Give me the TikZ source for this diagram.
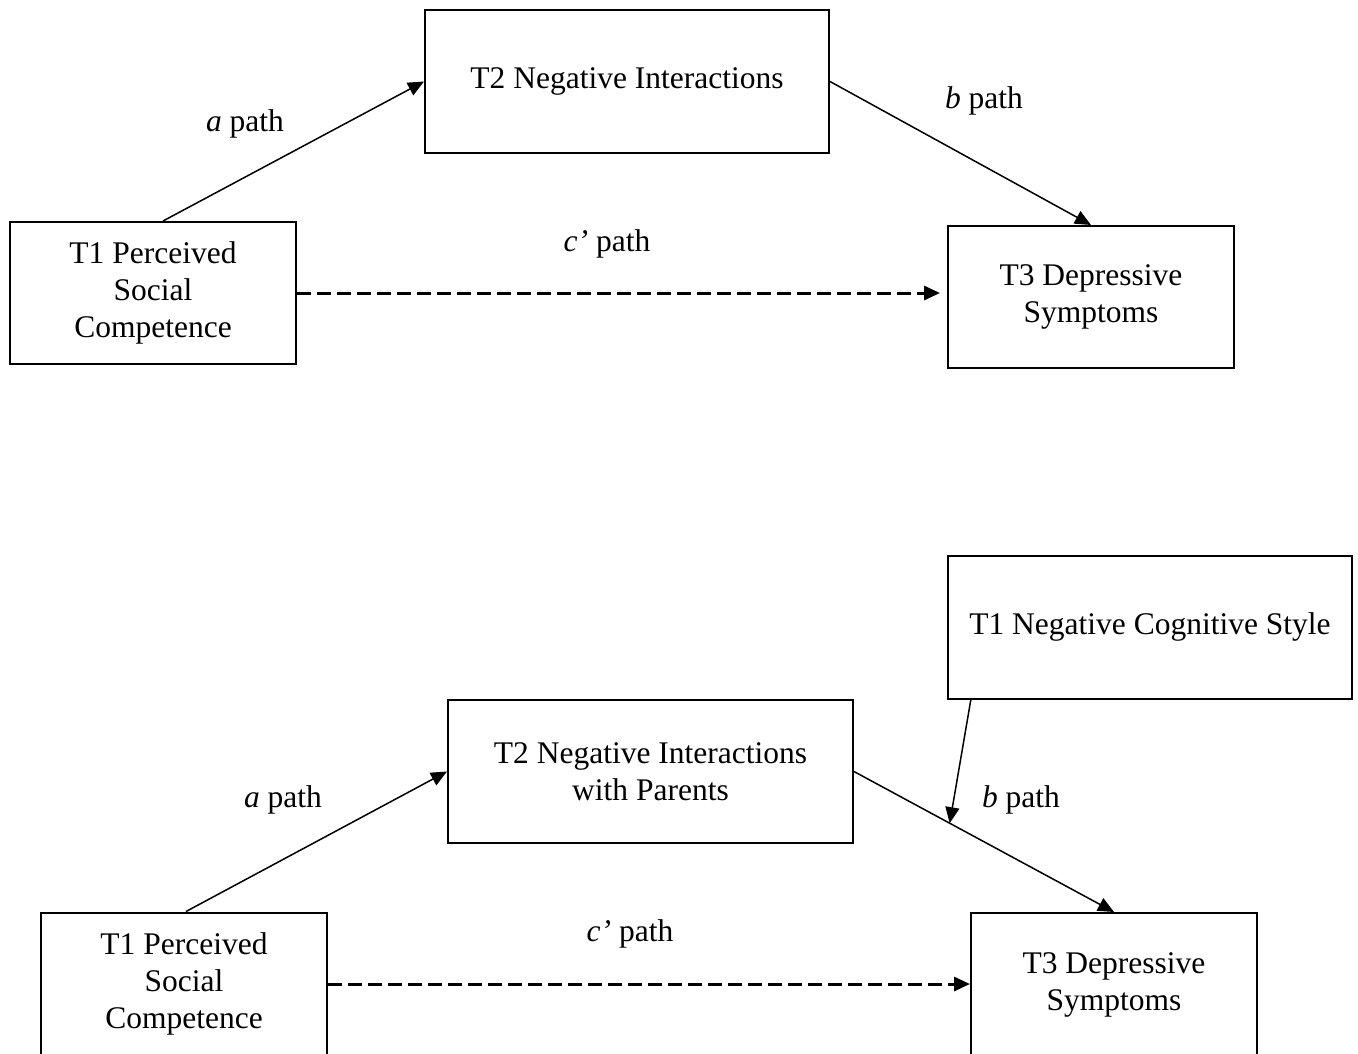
\documentclass[tikz,border=0pt]{standalone}
\usepackage{fontspec}
\setmainfont{Liberation Serif}
\usetikzlibrary{arrows.meta,calc}
\begin{document}
\begin{tikzpicture}[x=1pt,y=-1pt,
  box/.style={draw, line width=2pt, inner sep=0pt, align=center,
    font=\fontsize{31.5}{37}\selectfont},
  lab/.style={font=\fontsize{31.5}{37}\selectfont, inner sep=0pt},
  arr/.style={line width=1.5pt, -{Triangle[length=16pt,width=14pt]}},
  darr/.style={line width=3pt, dash pattern=on 13.5pt off 6.5pt, -{Triangle[length=16pt,width=14pt]}}]
\useasboundingbox (0,0) rectangle (1358,1053);
\clip (0,0) rectangle (1358,1053);
% ---------- top model ----------
\node[box, minimum width=404pt, minimum height=143pt] (t2) at (627,81.5) {T2 Negative Interactions};
\node[box, minimum width=286pt, minimum height=142pt] (t1) at (153,293) {T1 Perceived\\Social\\Competence};
\node[box, minimum width=286pt, minimum height=142pt] (t3) at (1091,297) {T3 Depressive\\Symptoms};
\node[lab] (la) at (245,124) {\textit{a} path};
\node[lab] (lb) at (984,101) {\textit{b} path};
\node[lab] (lc) at (607,244) {\textit{c’} path};
\draw[arr] ([xshift=10pt]t1.north) -- (t2.west);
\draw[arr] (t2.east) -- (t3.north);
\draw[darr, shorten >=7pt] (t1.east) -- (t1.east -| t3.west);
% ---------- bottom model ----------
\node[box, minimum width=405pt, minimum height=143pt] (t2b) at (650.5,771.5) {T2 Negative Interactions\\with Parents};
\node[box, minimum width=404pt, minimum height=143pt] (ncs) at (1150,627) {T1 Negative Cognitive Style};
\node[box, minimum width=286pt, minimum height=143pt] (t1b) at (184,984) {T1 Perceived\\Social\\Competence};
\node[box, minimum width=286pt, minimum height=143pt] (t3b) at (1114,984.5) {T3 Depressive\\Symptoms};
\node[lab] (lab2) at (283,800) {\textit{a} path};
\node[lab] (lbb2) at (1021,800) {\textit{b} path};
\node[lab] (lcb2) at (630,934) {\textit{c’} path};
\draw[arr] ([xshift=2pt]t1b.north) -- (t2b.west);
\draw[arr] (t2b.east) -- (t3b.north);
\coordinate (mod) at ($(t2b.east)!0.368!(t3b.north)$);
\draw[arr] ([xshift=24pt,yshift=0.8pt]ncs.south west) -- (mod);
\draw[darr] (t1b.east) -- (t1b.east -| t3b.west);
\end{tikzpicture}
\end{document}
